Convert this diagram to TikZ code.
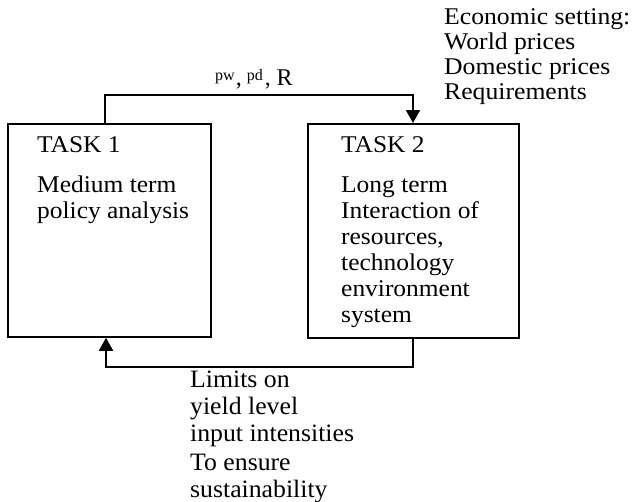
\documentclass[tikz,border=0pt]{standalone}
\usepackage{fontspec}
\setmainfont{Liberation Serif}
\newfontfamily\boxserif[FakeStretch=1.06]{Liberation Serif}
\newfontfamily\wideserif[FakeStretch=1.07]{Liberation Serif}
\newfontfamily\lowserif[FakeStretch=1.03]{Liberation Serif}
\usetikzlibrary{arrows.meta}
\newcommand{\smallsup}[1]{\raisebox{5pt}{\fontsize{16}{16}\selectfont #1}}
\begin{document}
\begin{tikzpicture}[x=1pt,y=-1pt,
  box/.style={draw,line width=1.8pt,minimum width=#1,inner sep=0pt,anchor=north west},
  conn/.style={line width=1.8pt,-{Triangle[length=13pt,width=14pt]}},
  txt/.style={anchor=base west,inner sep=0pt,align=left},
  boxtext/.style={txt,font=\boxserif\fontsize{24}{26}\selectfont}]
\useasboundingbox (0,0) rectangle (634,501);
\node[box=203pt,minimum height=213pt] (t1) at (7,123) {};
\node[box=211pt,minimum height=214pt] (t2) at (307,123) {};
% texts in boxes (anchor = baseline of last line)
\node[boxtext] (t1h) at (37,152) {TASK 1};
\node[boxtext] (t1b) at (37,218) {Medium term\\policy analysis};
\node[boxtext] (t2h) at (341,152) {TASK 2};
\node[boxtext] (t2b) at (341,322) {Long term\\Interaction of\\resources,\\technology\\environment\\system};
% economic setting
\node[txt,font=\wideserif\fontsize{24}{25}\selectfont] (eco) at (444,99) {Economic setting:\\World prices\\Domestic prices\\Requirements};
% connectors
\coordinate (a) at ([xshift=98pt]t1.north west);
\coordinate (b) at ([xshift=106pt]t2.north west);
\draw[conn] (a) -- ++(0,-28) -| (b);
\coordinate (c) at ([xshift=106pt]t2.south west);
\coordinate (d) at ([xshift=99pt]t1.south west);
\draw[conn] (c) -- ++(0,28) -| (d);
% label on top connector
\node[txt,font=\fontsize{24}{24}\selectfont] (lab) at (215,85) {\smallsup{pw}\hspace{1pt},\hspace{5pt}\smallsup{pd}\hspace{2pt},\hspace{6pt}R};
% bottom text
\node[txt,font=\lowserif\fontsize{25}{27}\selectfont] (lim) at (190,497) {Limits on\\yield level\\input intensities\\[2pt]To ensure\\sustainability};
\end{tikzpicture}
\end{document}
